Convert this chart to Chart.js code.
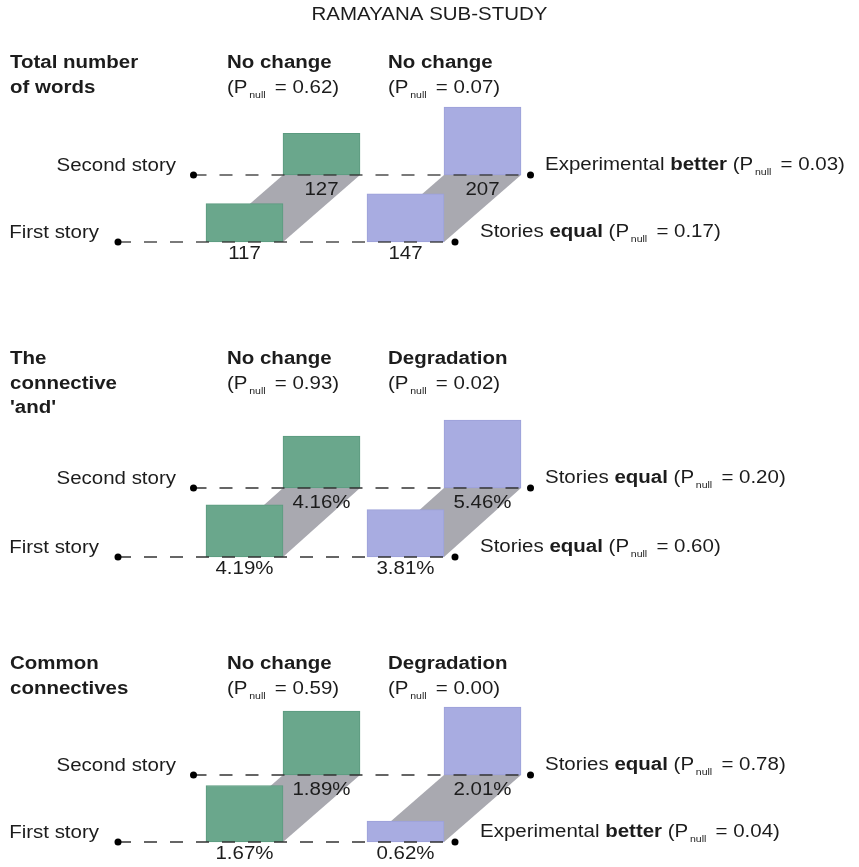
<!DOCTYPE html>
<html>
<head>
<meta charset="utf-8">
<script src="https://cdn.jsdelivr.net/npm/chart.js@4/dist/chart.umd.min.js"></script>
<style>
  html, body { margin: 0; padding: 0; background: #ffffff; }
  #wrap { width: 859px; height: 867px; }
</style>
</head>
<body>
<div id="wrap"><canvas id="c" width="859" height="867"></canvas></div>
<script>
// ---- data ----
const chartTitle = 'RAMAYANA SUB-STUDY';
const measureNames = [['Total number', 'of words'], ['The', 'connective', "'and'"], ['Common', 'connectives']];
const rowLabels = ['First story', 'Second story'];
const valueUnits = ['', '%', '%'];
const valueDecimals = [0, 2, 2];
// values per measure: [green group, blue group]
const firstStoryValues = [[117, 147], [4.19, 3.81], [1.67, 0.62]];
const secondStoryValues = [[127, 207], [4.16, 5.46], [1.89, 2.01]];
// change between the two stories inside each group
const groupVerdicts = [['No change', 'No change'], ['No change', 'Degradation'], ['No change', 'Degradation']];
const groupPnull = [[0.62, 0.07], [0.93, 0.02], [0.59, 0.00]];
// comparison of the groups for each story
const firstStoryVerdicts = [['Stories', 'equal'], ['Stories', 'equal'], ['Experimental', 'better']];
const firstStoryPnull = [0.17, 0.60, 0.04];
const secondStoryVerdicts = [['Experimental', 'better'], ['Stories', 'equal'], ['Stories', 'equal']];
const secondStoryPnull = [0.03, 0.20, 0.78];

// ---- layout ----
const W = 859, H = 867;
const firstBaseY = [242, 557, 842];   // pixel row of the first-story floor line per panel
const secondBaseY = [175, 488, 775];  // pixel row of the second-story floor line per panel
const headBaseY = [68, 364, 669];
const LINE_GAP = 24.5;
const TALLEST_PX = 68;
const BAR_W = 77;
const groupCenterX = [244.5, 405.5];  // first-story bar centres
const ROW_SHIFT_X = 77;               // second story sits one bar width further right
const guideX = [118, 455];            // first-story guide line ends
const GUIDE_SHIFT = 75.5;
const rowLabelRight = [99, 176];
const verdictLeft = [480, 545];
const groupColors = [
  { fill: '#6aa78c', edge: '#5b9a7f' },
  { fill: '#a8ace1', edge: '#9ca1d8' }
];
const FLOOR_COLOR = '#a9a9b0';
const GUIDE_COLOR = '#333333';
const TEXT_COLOR = '#1c1c1c';
const FONT = '"Liberation Sans", Arial, Helvetica, sans-serif';
const TEXT_SIZE = 17.5, SUB_SIZE = 9, STRETCH = 1.17;
const SUB_PAD = [1.5, 3];             // space before / after a subscript

const pxPerUnit = firstStoryValues.map((f, p) => TALLEST_PX / Math.max(...f, ...secondStoryValues[p]));
const rowOffset = pxPerUnit.map((k, p) => (firstBaseY[p] - secondBaseY[p]) / k);

// ---- datasets ----
const datasets = [];
const scales = {
  x: { type: 'linear', display: false, min: 0, max: W, offset: false, ticks: { stepSize: 100 } },
  y: { type: 'linear', display: false }
};

firstStoryValues.forEach((firstVals, p) => {
  const yId = 'y' + p;
  const k = pxPerUnit[p];
  const off = rowOffset[p];
  scales[yId] = { type: 'linear', display: false, min: -(H - firstBaseY[p]) / k, max: firstBaseY[p] / k };

  // sloped floor joining each pair of bars
  groupCenterX.forEach((cx) => {
    const pts = [
      { x: cx - BAR_W / 2, y: 0 },
      { x: cx + BAR_W / 2, y: 0 },
      { x: cx + ROW_SHIFT_X + BAR_W / 2, y: off },
      { x: cx + ROW_SHIFT_X - BAR_W / 2, y: off },
      { x: cx - BAR_W / 2, y: 0 }
    ];
    datasets.push({
      type: 'line', xAxisID: 'x', yAxisID: yId, data: pts,
      fill: 'shape', backgroundColor: FLOOR_COLOR,
      borderColor: 'rgba(0,0,0,0)', borderWidth: 0, pointRadius: 0, tension: 0, order: 3
    });
  });

  // story bars
  const barData = [], fills = [], edges = [];
  groupCenterX.forEach((cx, g) => {
    barData.push({ x: cx, y: [0, firstVals[g]] });
    barData.push({ x: cx + ROW_SHIFT_X, y: [off, off + secondStoryValues[p][g]] });
    fills.push(groupColors[g].fill, groupColors[g].fill);
    edges.push(groupColors[g].edge, groupColors[g].edge);
  });
  datasets.push({
    type: 'bar', xAxisID: 'x', yAxisID: yId, data: barData,
    backgroundColor: fills, borderColor: edges, borderWidth: 1, borderSkipped: false,
    grouped: false, barThickness: BAR_W, maxBarThickness: BAR_W, order: 2
  });

  // dashed floor lines with end dots
  [0, 1].forEach(row => {
    const shift = row * GUIDE_SHIFT;
    const yv = row * off;
    datasets.push({
      type: 'line', xAxisID: 'x', yAxisID: yId,
      data: [{ x: guideX[0] + shift, y: yv }, { x: guideX[1] + shift, y: yv }],
      borderColor: GUIDE_COLOR, borderWidth: 1.3, borderDash: [13, 13], fill: false,
      pointRadius: 3.5, pointBackgroundColor: '#000', pointBorderColor: '#000', pointBorderWidth: 0,
      order: 1
    });
  });
});

// ---- text ----
function fontOf(size, bold) { return (bold ? 'bold ' : '') + size + 'px ' + FONT; }
function pnullRuns(v) { return [{ t: '(P' }, { t: 'null', sub: true }, { t: ' = ' + v.toFixed(2) + ')' }]; }
function runWidth(ctx, r, size) {
  ctx.font = r.sub ? fontOf(SUB_SIZE) : fontOf(size, r.bold);
  return ctx.measureText(r.t).width + (r.sub ? SUB_PAD[0] + SUB_PAD[1] : 0);
}
function drawRuns(ctx, runs, x, y, align, size) {
  ctx.save();
  let w = 0;
  for (const r of runs) w += runWidth(ctx, r, size);
  let cx = align === 'right' ? -w : (align === 'center' ? -w / 2 : 0);
  ctx.translate(x, y);
  ctx.scale(STRETCH, 1);
  ctx.textAlign = 'left';
  ctx.textBaseline = 'alphabetic';
  ctx.fillStyle = TEXT_COLOR;
  for (const r of runs) {
    const rw = runWidth(ctx, r, size);
    ctx.fillText(r.t, cx + (r.sub ? SUB_PAD[0] : 0), r.sub ? 5 : 0);
    cx += rw;
  }
  ctx.restore();
}
function fmtValue(v, p) { return v.toFixed(valueDecimals[p]) + valueUnits[p]; }

const textPlugin = {
  id: 'storyText',
  afterDraw(chart) {
    const ctx = chart.ctx;
    const xs = chart.scales.x;
    drawRuns(ctx, [{ t: chartTitle }], W / 2, 20, 'center', TEXT_SIZE);
    firstStoryValues.forEach((firstVals, p) => {
      const ys = chart.scales['y' + p];
      const off = rowOffset[p];
      const y0 = ys.getPixelForValue(0);
      const y1 = ys.getPixelForValue(off);
      // measure name
      measureNames[p].forEach((line, i) => drawRuns(ctx, [{ t: line, bold: true }], 10, headBaseY[p] + i * LINE_GAP, 'left', TEXT_SIZE));
      // group headers
      groupCenterX.forEach((cx, g) => {
        const hx = xs.getPixelForValue(cx - BAR_W / 2) + 21;
        drawRuns(ctx, [{ t: groupVerdicts[p][g], bold: true }], hx, headBaseY[p], 'left', TEXT_SIZE);
        drawRuns(ctx, pnullRuns(groupPnull[p][g]), hx, headBaseY[p] + LINE_GAP, 'left', TEXT_SIZE);
        // value labels under each bar
        drawRuns(ctx, [{ t: fmtValue(firstVals[g], p) }], xs.getPixelForValue(cx), y0 + 17, 'center', TEXT_SIZE);
        drawRuns(ctx, [{ t: fmtValue(secondStoryValues[p][g], p) }], xs.getPixelForValue(cx + ROW_SHIFT_X), y1 + 20, 'center', TEXT_SIZE);
      });
      // row names
      drawRuns(ctx, [{ t: rowLabels[0] }], rowLabelRight[0], y0 - 4, 'right', TEXT_SIZE);
      drawRuns(ctx, [{ t: rowLabels[1] }], rowLabelRight[1], y1 - 4, 'right', TEXT_SIZE);
      // group comparison for each story
      const fv = firstStoryVerdicts[p], sv = secondStoryVerdicts[p];
      drawRuns(ctx, [{ t: fv[0] + ' ' }, { t: fv[1], bold: true }, { t: ' ' }].concat(pnullRuns(firstStoryPnull[p])), verdictLeft[0], y0 - 5, 'left', TEXT_SIZE);
      drawRuns(ctx, [{ t: sv[0] + ' ' }, { t: sv[1], bold: true }, { t: ' ' }].concat(pnullRuns(secondStoryPnull[p])), verdictLeft[1], y1 - 5, 'left', TEXT_SIZE);
    });
  }
};

new Chart(document.getElementById('c'), {
  type: 'bar',
  data: { datasets },
  options: {
    responsive: false,
    animation: false,
    devicePixelRatio: 1,
    layout: { padding: 0, autoPadding: false },
    plugins: { legend: { display: false }, tooltip: { enabled: false }, title: { display: false } },
    events: [],
    scales
  },
  plugins: [textPlugin]
});
</script>
</body>
</html>
